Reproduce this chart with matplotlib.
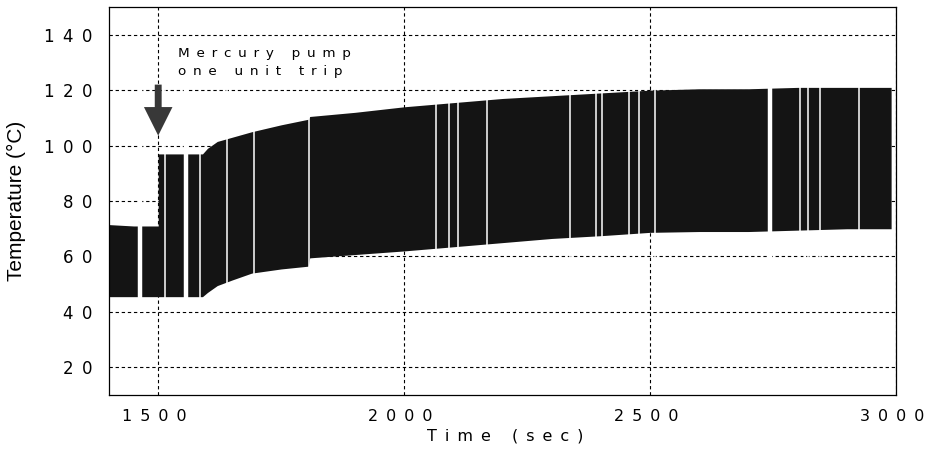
import matplotlib
matplotlib.use("Agg")
import matplotlib.pyplot as plt
from matplotlib.transforms import ScaledTranslation

# envelope of the (dense) temperature oscillation
upper_t = [1400, 1450, 1500, 1500, 1550, 1590, 1600, 1620, 1650, 1690, 1750, 1805, 1808, 1900,
           2000, 2100, 2200, 2300, 2400, 2500, 2600, 2700, 2800, 2900, 2990]
upper_v = [71.5, 71, 71, 97, 97, 97, 99, 101.5, 103, 105, 107.5, 109.5, 110.5, 112,
           114, 115.5, 117, 118, 119, 120, 120.5, 120.5, 121, 121, 121]
lower_v = [45.5, 45.5, 45.5, 45.5, 45.5, 45.5, 47, 49.5, 51.5, 54, 55.5, 56.5, 59.5, 60.7,
           62, 63.5, 65, 66.5, 67.5, 68.7, 69, 69, 69.5, 70, 70]

# white gaps (data dropouts) in the band, seconds
thin_gaps = [1514, 1584, 1639, 1694, 1806, 2065, 2092, 2110, 2169, 2337, 2390,
             2402, 2457, 2478, 2510, 2804, 2822, 2845, 2924]
wide_gaps = [1464, 1556, 2743]

yticks = [20, 40, 60, 80, 100, 120, 140]
xticks = [1500, 2000, 2500, 3000]
trip_time = 1500

EN = "\u2002"


def spread(s, sep=EN):
    return sep.join(s)


fig = plt.figure(figsize=(9.27, 4.51), dpi=100)
ax = fig.add_axes([0.1176, 0.124, 0.849, 0.8605])

ax.fill_between(upper_t, lower_v, upper_v, color="#141414", lw=0, zorder=2)
ax.vlines(thin_gaps, 40, 125, colors="white", lw=1.1, zorder=3)
ax.vlines(wide_gaps, 40, 125, colors="white", lw=3.2, zorder=3)

# arrow at the trip
ax.arrow(trip_time, 122, 0, -18.4, width=14, head_width=58, head_length=10.3,
         length_includes_head=True, color="#383838", lw=0, zorder=4)
ax.text(1541, 132.1, spread("Mercury pump"), fontsize=9.7, va="baseline", ha="left")
ax.text(1541, 125.4, spread("one unit trip"), fontsize=9.7, va="baseline", ha="left")

ax.set_xlim(1400, 3000)
ax.set_ylim(10, 150)
ax.set_xticks(xticks)
ax.set_xticklabels([spread(str(t)) for t in xticks], fontsize=11.5)
ax.set_yticks(yticks)
ax.set_yticklabels([spread(str(t)) for t in yticks], fontsize=12)
ax.tick_params(length=0)
ax.tick_params(axis="x", pad=10)
ax.tick_params(axis="y", pad=12)
shift = ScaledTranslation(-4 / 100, 0, fig.dpi_scale_trans)
for lab in ax.get_xticklabels():
    lab.set_transform(lab.get_transform() + shift)

ax.grid(True, color="black", ls=(0, (3, 2.5)), lw=0.8, zorder=1)
for s in ax.spines.values():
    s.set_linewidth(0.9)

ax.set_xlabel(spread("Time (sec)"), fontsize=11.5)
ax.xaxis.set_label_coords(0.503, -0.085)
ax.set_ylabel("Temperature (°C)", fontsize=15, family="Liberation Sans")
ax.yaxis.set_label_coords(-0.105, 0.5)

fig.savefig("out.png", dpi=100)
